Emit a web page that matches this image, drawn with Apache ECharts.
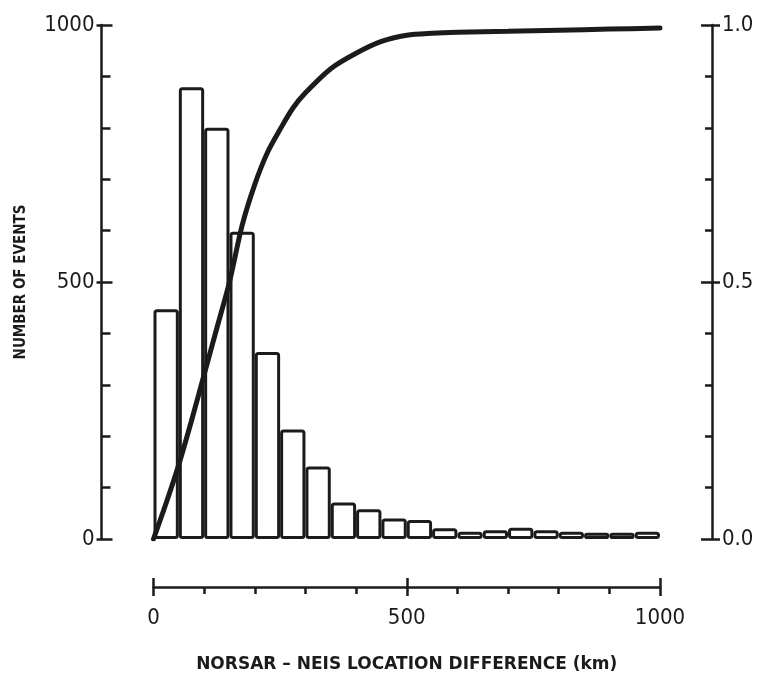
<!DOCTYPE html>
<html>
<head>
<meta charset="utf-8">
<script src="https://cdn.jsdelivr.net/npm/echarts@6/dist/echarts.min.js"></script>
<style>
  html, body { margin: 0; padding: 0; background: #ffffff; }
  #chart { width: 764px; height: 682px; }
</style>
</head>
<body>
<div id="chart"></div>
<script>
// Histogram bins (50 km wide) and event counts
const binStarts = [0, 50, 100, 150, 200, 250, 300, 350, 400, 450, 500, 550, 600, 650, 700, 750, 800, 850, 900, 950];
const eventCounts = [447, 879, 800, 598, 364, 213, 141, 71, 58, 40, 37, 21, 14, 17, 22, 17, 14, 12, 12, 14];

// Cumulative fraction curve
const curveKm   = [0, 25, 50, 75, 100, 125, 150, 175, 200, 225, 250, 275, 300, 350, 400, 450, 500, 550, 600, 700, 800, 900, 1000];
const curveFrac = [0, 0.07, 0.145, 0.23, 0.32, 0.41, 0.50, 0.61, 0.69, 0.752, 0.797, 0.838, 0.868, 0.915, 0.945, 0.968, 0.98, 0.984, 0.986, 0.988, 0.990, 0.992, 0.994];

// Axis tick labels
const leftTicks = [0, 500, 1000];
const rightTicks = ['0.0', '0.5', '1.0'];
const bottomTicks = [0, 500, 1000];

const INK = '#1b1b1b';
const FONT = '"Liberation Sans Narrow", "DejaVu Sans Condensed", sans-serif';

const chart = echarts.init(document.getElementById('chart'));

const curveData = curveKm.map((k, i) => [k, curveFrac[i]]);

const line = { color: INK, width: 2.5 };

chart.setOption({
  animation: false,
  backgroundColor: '#ffffff',
  grid: { left: 153.5, right: 104, top: 25, bottom: 143, containLabel: false },
  xAxis: [
    { // bins for the bars
      type: 'category', data: binStarts, boundaryGap: true, show: false
    },
    { // distance axis drawn below the plot
      type: 'value', min: 0, max: 1000, interval: 500, position: 'bottom', offset: 48,
      axisLine: { show: true, onZero: false, lineStyle: line },
      axisTick: { show: true, length: 9, lineStyle: line },
      minorTick: { show: true, splitNumber: 5, length: 7, lineStyle: line },
      splitLine: { show: false },
      axisLabel: {
        show: true, color: INK, fontFamily: FONT, fontSize: 22, margin: 20,
        formatter: v => bottomTicks.includes(v) ? String(v) : ''
      },
      name: 'NORSAR – NEIS LOCATION DIFFERENCE (km)',
      nameLocation: 'middle', nameGap: 69,
      nameTextStyle: { color: INK, fontFamily: '"DejaVu Sans", sans-serif', fontWeight: 'bold', fontSize: 17 }
    },
    { // upward stubs of the major distance ticks
      type: 'value', min: 0, max: 1000, interval: 500, position: 'bottom', offset: 48,
      axisLine: { show: false, onZero: false },
      axisTick: { show: true, inside: true, length: 9, lineStyle: line },
      axisLabel: { show: false }, splitLine: { show: false }
    }
  ],
  yAxis: [
    { // event count axis
      type: 'value', min: 0, max: 1000, interval: 500, position: 'left', offset: 52,
      axisLine: { show: true, onZero: false, lineStyle: line },
      axisTick: { show: true, inside: true, length: 11, lineStyle: line },
      minorTick: { show: true, splitNumber: 5, length: 9, lineStyle: line },
      splitLine: { show: false },
      axisLabel: {
        show: true, color: INK, fontFamily: FONT, fontSize: 22, margin: 7,
        formatter: v => leftTicks.includes(v) ? String(v) : ''
      },
      name: 'NUMBER OF EVENTS', nameLocation: 'middle', nameGap: 73, nameRotate: 90,
      nameTextStyle: { color: INK, fontFamily: FONT, fontWeight: 'bold', fontSize: 15 }
    },
    { // outer stubs of the major count ticks
      type: 'value', min: 0, max: 1000, interval: 500, position: 'left', offset: 52,
      axisLine: { show: false, onZero: false },
      axisTick: { show: true, inside: false, length: 5, lineStyle: line },
      axisLabel: { show: false }, splitLine: { show: false }
    },
    { // cumulative fraction axis
      type: 'value', min: 0, max: 1, interval: 0.5, position: 'right', offset: 52,
      axisLine: { show: true, onZero: false, lineStyle: line },
      axisTick: { show: true, inside: true, length: 11, lineStyle: line },
      minorTick: { show: true, splitNumber: 5, length: 7, lineStyle: line },
      splitLine: { show: false },
      axisLabel: {
        show: true, color: INK, fontFamily: FONT, fontSize: 22, margin: 10,
        formatter: v => rightTicks[Math.round(v * 2)] || ''
      }
    },
    { // outer stubs of the major fraction ticks
      type: 'value', min: 0, max: 1, interval: 0.5, position: 'right', offset: 52,
      axisLine: { show: false, onZero: false },
      axisTick: { show: true, inside: false, length: 8, lineStyle: line },
      axisLabel: { show: false }, splitLine: { show: false }
    }
  ],
  series: [
    {
      type: 'bar', xAxisIndex: 0, yAxisIndex: 0,
      data: eventCounts, barWidth: '100%', barGap: '0%',
      itemStyle: { color: '#ffffff', borderColor: INK, borderWidth: 3, borderRadius: 2 },
      z: 2
    },
    {
      type: 'line', xAxisIndex: 1, yAxisIndex: 2,
      data: curveData, smooth: 0.3, showSymbol: false,
      lineStyle: { color: INK, width: 5, cap: 'round' },
      z: 3
    }
  ]
});
</script>
</body>
</html>
